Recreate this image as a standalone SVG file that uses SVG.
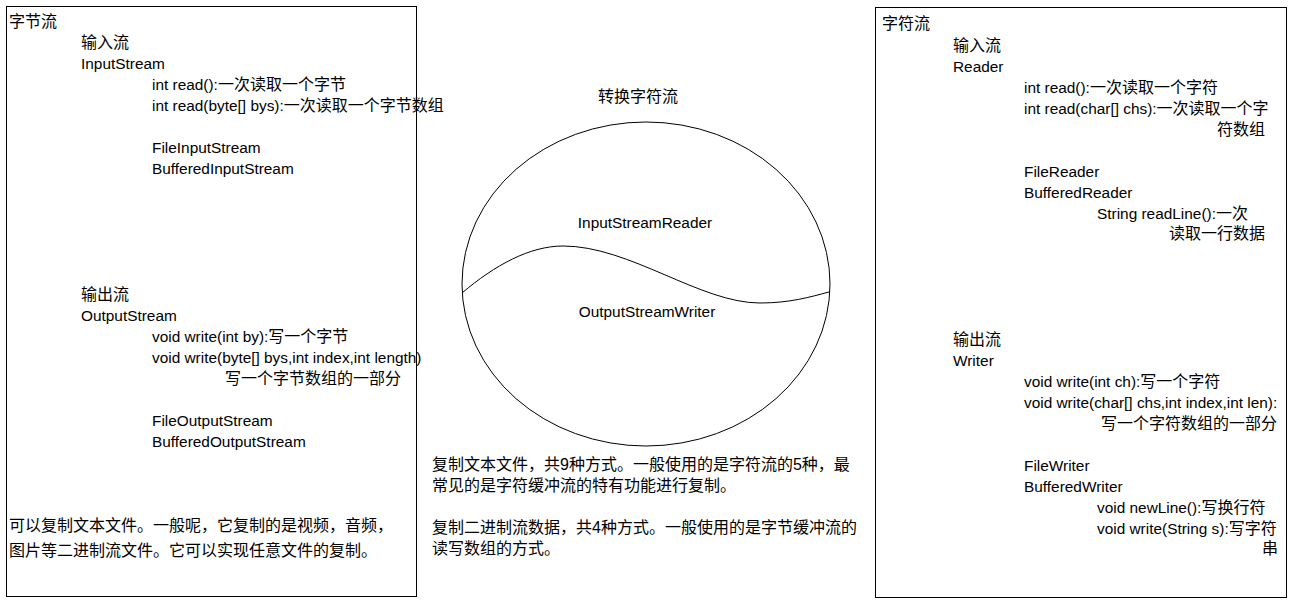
<svg xmlns="http://www.w3.org/2000/svg" width="1298" height="602" viewBox="0 0 1298 602">
<style>
text{font-family:"Liberation Sans","Noto Sans CJK SC",sans-serif;font-size:15.4px;fill:#000}
.c{font-size:16px}
.box{fill:none;stroke:#000;stroke-width:1}
</style>
<rect width="1298" height="602" fill="#fff"/>
<g id="byte-stream">
<rect class="box" x="6.500" y="6.500" width="410" height="590"/>
<text x="9" y="27" class="c">字节流</text>
<text x="81" y="48" class="c">输入流</text>
<text x="81" y="69">InputStream</text>
<text x="152" y="90">int read():<tspan class="c">一次读取一个字节</tspan></text>
<text x="152" y="111">int read(byte[] bys):<tspan class="c">一次读取一个字节数组</tspan></text>
<text x="152" y="153">FileInputStream</text>
<text x="152" y="174">BufferedInputStream</text>
<text x="81" y="300" class="c">输出流</text>
<text x="81" y="321">OutputStream</text>
<text x="152" y="342">void write(int by):<tspan class="c">写一个字节</tspan></text>
<text x="152" y="363">void write(byte[] bys,int index,int length)</text>
<text x="225" y="384" class="c">写一个字节数组的一部分</text>
<text x="152" y="426">FileOutputStream</text>
<text x="152" y="447">BufferedOutputStream</text>
<text x="9" y="531" class="c">可以复制文本文件。一般呢，它复制的是视频，音频，</text>
<text x="9" y="556" class="c">图片等二进制流文件。它可以实现任意文件的复制。</text>
</g>
<g id="convert-stream">
<text x="638" y="102" text-anchor="middle" class="c">转换字符流</text>
<ellipse class="box" cx="646" cy="284" rx="184" ry="162"/>
<text x="645" y="228" text-anchor="middle">InputStreamReader</text>
<text x="647" y="317" text-anchor="middle">OutputStreamWriter</text>
</g>
<g id="connectors">
<path class="box" d="M462,293 C495,265 530,246 563,246 C630,246 700,303 760,303 C790,303 810,297 829,292"/>
</g>
<g id="copy-notes">
<text x="432" y="470" class="c">复制文本文件，共9种方式。一般使用的是字符流的5种，最</text>
<text x="432" y="491" class="c">常见的是字符缓冲流的特有功能进行复制。</text>
<text x="432" y="533" class="c">复制二进制流数据，共4种方式。一般使用的是字节缓冲流的</text>
<text x="432" y="554" class="c">读写数组的方式。</text>
</g>
<g id="char-stream">
<rect class="box" x="875.500" y="7.500" width="411" height="590"/>
<text x="882" y="29" class="c">字符流</text>
<text x="953" y="51" class="c">输入流</text>
<text x="953" y="72">Reader</text>
<text x="1024" y="93">int read():<tspan class="c">一次读取一个字符</tspan></text>
<text x="1024" y="114">int read(char[] chs):<tspan class="c">一次读取一个字</tspan></text>
<text x="1217" y="135" class="c">符数组</text>
<text x="1024" y="177">FileReader</text>
<text x="1024" y="198">BufferedReader</text>
<text x="1097" y="219">String readLine():<tspan class="c">一次</tspan></text>
<text x="1169" y="239" class="c">读取一行数据</text>
<text x="953" y="345" class="c">输出流</text>
<text x="953" y="366">Writer</text>
<text x="1024" y="387">void write(int ch):<tspan class="c">写一个字符</tspan></text>
<text x="1024" y="408">void write(char[] chs,int index,int len):</text>
<text x="1101" y="429" class="c">写一个字符数组的一部分</text>
<text x="1024" y="471">FileWriter</text>
<text x="1024" y="492">BufferedWriter</text>
<text x="1097" y="513">void newLine():<tspan class="c">写换行符</tspan></text>
<text x="1097" y="534">void write(String s):<tspan class="c">写字符</tspan></text>
<text x="1262" y="554" class="c">串</text>
</g>
</svg>
